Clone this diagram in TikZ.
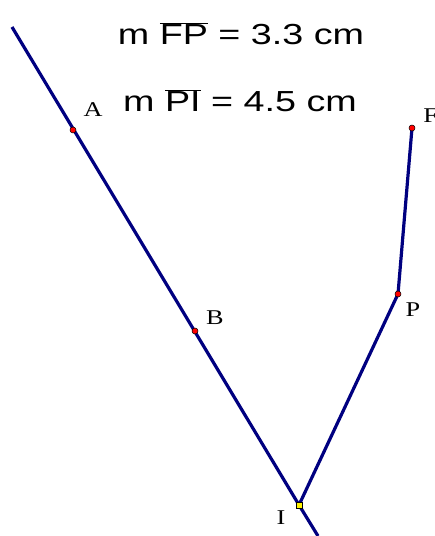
\documentclass[tikz,border=0pt]{standalone}
\usepackage{fontspec}
\setmainfont{Liberation Serif}
\setsansfont{Liberation Sans}
\usetikzlibrary{positioning}
\definecolor{segblue}{RGB}{0,0,128}
\newcommand{\segbar}[1]{$\overline{\mbox{#1}}$}
\pgfdeclarelayer{bg}
\pgfsetlayers{bg,main}

\begin{document}
\begin{tikzpicture}[
  x=1pt, y=1pt,
  seg/.style={draw=segblue, line width=3.2pt, line join=round},
  pt/.style={circle, draw=black, fill=red, inner sep=0pt, minimum size=6pt, line width=0.5pt},
  ipt/.style={rectangle, draw=black, fill=yellow, inner sep=0pt, minimum size=6pt, line width=0.5pt},
  lbl/.style={font=\fontsize{21}{21}\selectfont, xscale=1.25, transform shape, inner sep=0pt, anchor=base},
  meas/.style={font=\sffamily\fontsize{29}{29}\selectfont, xscale=1.3, transform shape, inner sep=0pt, anchor=base}
]
\useasboundingbox (0,0) rectangle (435,536);
% points
\coordinate (top) at (12,509);
\coordinate (bot) at (318,0);
\node[pt] (A) at (73,406) {};
\node[pt] (B) at (195,205) {};
\node[ipt] (I) at (299,31) {};
\node[pt] (P) at (398,242) {};
\node[pt] (F) at (412,408) {};
% labels
\node[lbl] (lA) at (93,419) {A};
\node[lbl] (lB) at (215,211) {B};
\node[lbl] (lI) at (281,11) {I};
\node[lbl] (lP) at (413,219) {P};
\node[lbl, anchor=base west] (lF) at (423,413) {F};
% measures
\node[meas] (mFP) at (241,491) {m \segbar{FP} = 3.3 cm};
\node[meas] (mPI) at (240,424) {m \segbar{PI} = 4.5 cm};
% segments
\begin{pgfonlayer}{bg}
\draw[seg] (top) -- (I.center) -- (bot);
\draw[seg] (I.center) -- (P.center) -- (F.center);
\end{pgfonlayer}
\end{tikzpicture}
\end{document}
